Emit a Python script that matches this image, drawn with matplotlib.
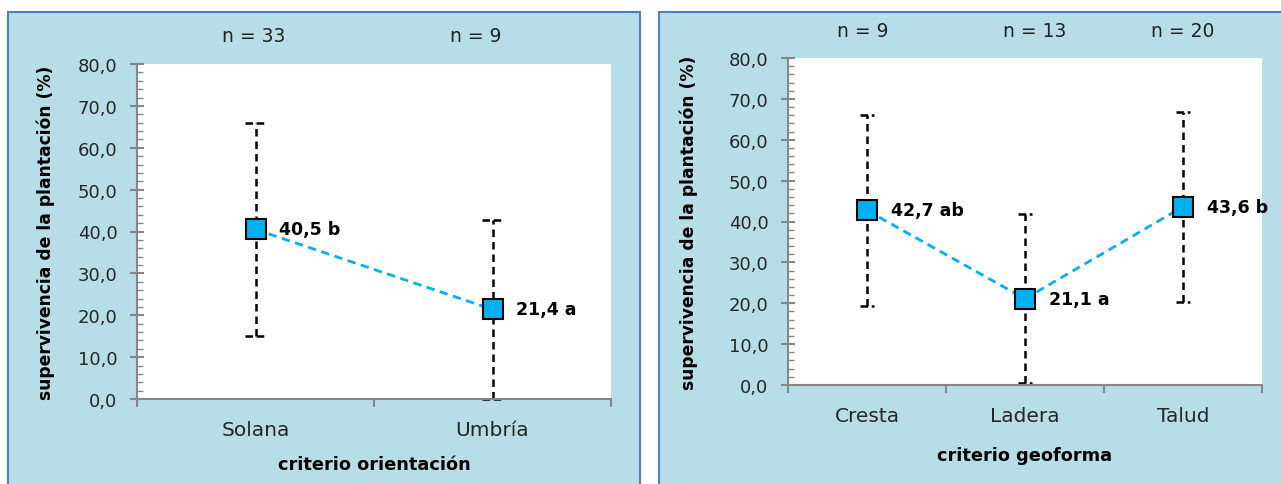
import matplotlib
matplotlib.use('Agg')
import matplotlib.pyplot as plt
from matplotlib.patches import Rectangle
from matplotlib.ticker import MultipleLocator, FixedLocator

plt.rcParams['font.family'] = ['DejaVu Sans']

# supervivencia media (%) y desviación por criterio
orient_cat = ['Solana', 'Umbría']
orient_mean = [40.5, 21.4]
orient_err = [25.4, 21.4]
orient_lbl = ['40,5 b', '21,4 a']
orient_n = ['n = 33', 'n = 9']

geo_cat = ['Cresta', 'Ladera', 'Talud']
geo_mean = [42.7, 21.1, 43.6]
geo_err = [23.4, 20.7, 23.2]
geo_lbl = ['42,7 ab', '21,1 a', '43,6 b']
geo_n = ['n = 9', 'n = 13', 'n = 20']

yticks = [0, 10, 20, 30, 40, 50, 60, 70, 80]
ytick_lbl = ['0,0', '10,0', '20,0', '30,0', '40,0', '50,0', '60,0', '70,0', '80,0']

W, H = 1281, 485
BG = '#B7DEE8'
EDGE = '#4F81BD'
AXC = '#868686'
CYAN = '#00B0F0'

fig = plt.figure(figsize=(W / 100, H / 100), dpi=100)
fig.patch.set_facecolor('white')


def px(x0, y0, x1, y1):
    return [x0 / W, 1 - y1 / H, (x1 - x0) / W, (y1 - y0) / H]


# fondos de los dos gráficos
for x0, x1 in [(8, 640), (659, 1300)]:
    fig.patches.append(Rectangle((x0 / W, -0.1), (x1 - x0) / W, 1.1 - 13 / H,
                                 transform=fig.transFigure, facecolor=BG,
                                 edgecolor=EDGE, linewidth=1.5, zorder=-5))


def panel(rect, cats, mean, err, lbl, nlab, n_dx, xlabel, xlab_pad, ylab_x):
    ax = fig.add_axes(rect)
    x = list(range(len(cats)))
    ax.set_facecolor('white')
    ax.errorbar(x, mean, yerr=err, fmt='none', ecolor='black', elinewidth=1.8,
                capsize=0, linestyle='none', zorder=2)
    for c in ax.containers:
        for art in c.lines[2]:
            art.set_linestyle((0, (3, 2)))
    # caps como trazos discontinuos
    for xi, m, e in zip(x, mean, err):
        for yv in (m - e, m + e):
            ax.plot([xi - 0.045, xi + 0.045], [yv, yv], color='black', lw=1.8,
                    linestyle=(0, (3, 1.5)), zorder=2, clip_on=False)
    ax.plot(x, mean, color=CYAN, lw=2, linestyle=(0, (3, 2)), zorder=3)
    ax.plot(x, mean, linestyle='none', marker='s', markersize=14,
            markerfacecolor=CYAN, markeredgecolor='black', markeredgewidth=1.5, zorder=4)
    for xi, m, t in zip(x, mean, lbl):
        ax.annotate(t, (xi, m), xytext=(17, 0), textcoords='offset points',
                    ha='left', va='center', fontsize=12.5, fontweight='bold')
    for xi, t, dx in zip(x, nlab, n_dx):
        ax.annotate(t, (xi, 1.085), xycoords=ax.get_xaxis_transform(),
                    xytext=(dx, 0), textcoords='offset pixels', ha='center',
                    va='center', fontsize=13.5, color='#222222')

    ax.set_xlim(-0.5, len(cats) - 0.5)
    ax.set_ylim(0, 80)
    ax.set_yticks(yticks)
    ax.set_yticklabels(ytick_lbl, fontsize=13, color='#262626')
    ax.yaxis.set_minor_locator(MultipleLocator(2))
    ax.tick_params(axis='y', which='major', direction='inout', length=10, width=1.5,
                   color=AXC, pad=9)
    ax.tick_params(axis='y', which='minor', direction='in', length=4, width=1, color=AXC)

    ax.xaxis.set_major_locator(FixedLocator(x))
    ax.set_xticklabels(cats, fontsize=14.5, color='#262626')
    ax.xaxis.set_minor_locator(FixedLocator([i - 0.5 for i in range(len(cats) + 1)]))
    ax.tick_params(axis='x', which='major', length=0, pad=15)
    ax.tick_params(axis='x', which='minor', direction='out', length=6, width=1.5, color=AXC)

    for s in ['top', 'right']:
        ax.spines[s].set_visible(False)
    for s in ['left', 'bottom']:
        ax.spines[s].set_color(AXC)
        ax.spines[s].set_linewidth(1.5)

    ax.set_xlabel(xlabel, fontsize=12.8, fontweight='bold', labelpad=xlab_pad)
    fig.text(ylab_x / W, ax.get_position().y0 + ax.get_position().height / 2,
             'supervivencia de la plantación (%)', rotation=90, ha='center',
             va='center', fontsize=12.3, fontweight='bold')
    return ax


panel(px(137, 65, 611, 400), orient_cat, orient_mean, orient_err, orient_lbl,
      orient_n, [-2, -17], 'criterio orientación', 12, 46)
panel(px(788, 59, 1262, 386), geo_cat, geo_mean, geo_err, geo_lbl,
      geo_n, [-4, 10, 0], 'criterio geoforma', 15, 689)

fig.savefig('out.png', dpi=100)
